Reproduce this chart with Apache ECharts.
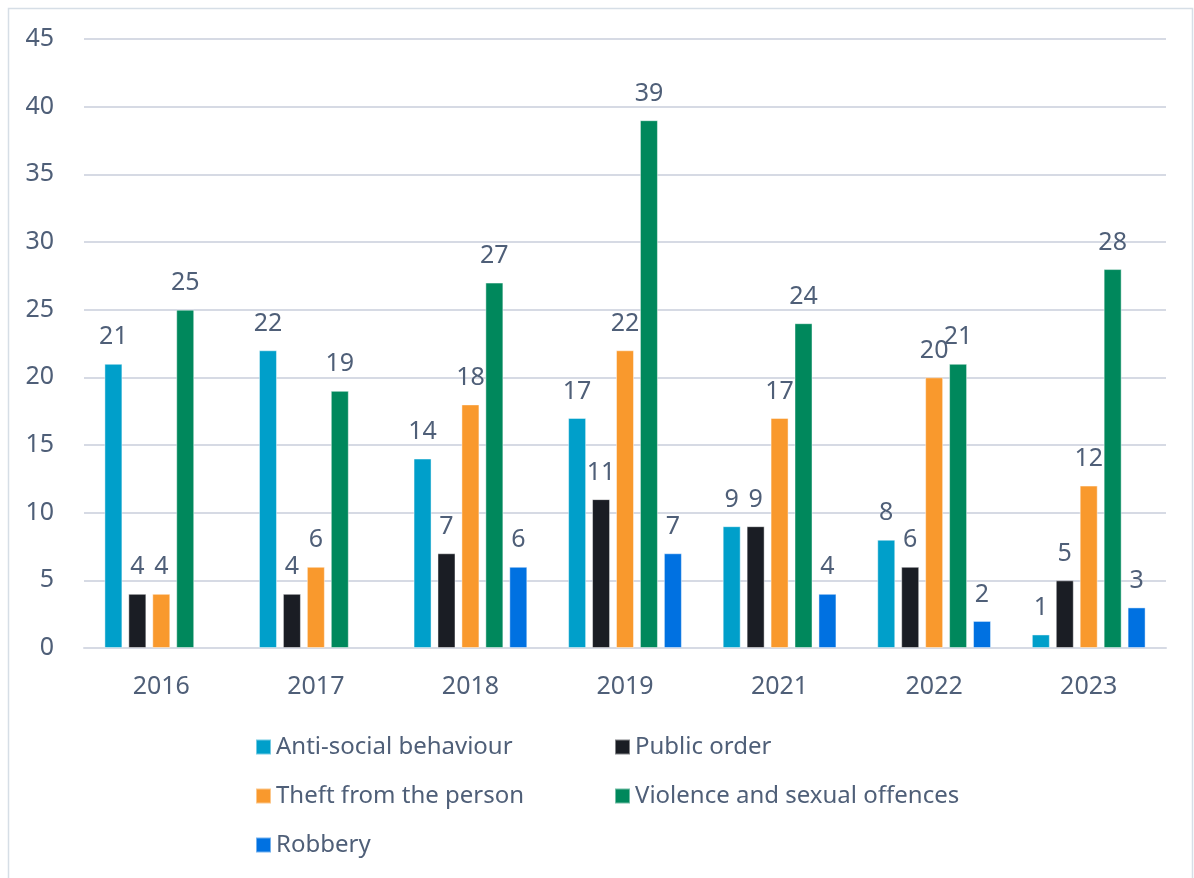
<!DOCTYPE html>
<html>
<head>
<meta charset="utf-8">
<script src="https://cdn.jsdelivr.net/npm/echarts@6/dist/echarts.min.js"></script>
<style>
  html, body { margin: 0; padding: 0; background: #fff; }
  #chart { width: 1194px; height: 878px; }
</style>
</head>
<body>
<div id="chart"></div>
<script>
// Recorded offences by year and crime type
const years = ['2016', '2017', '2018', '2019', '2021', '2022', '2023'];
const antiSocial = [21, 22, 14, 17, 9, 8, 1];
const publicOrder = [4, 4, 7, 11, 9, 6, 5];
const theft = [4, 6, 18, 22, 17, 20, 12];
const violence = [25, 19, 27, 39, 24, 21, 28];
const robbery = [null, null, 6, 7, 4, 2, 3];
const yTicks = { min: 0, max: 45, interval: 5 };

const textColor = '#4f5f78';
const fontFamily = '"Noto Sans", sans-serif';

const seriesDefs = [
  { name: 'Anti-social behaviour', data: antiSocial, color: '#009fca' },
  { name: 'Public order', data: publicOrder, color: '#1a1d24' },
  { name: 'Theft from the person', data: theft, color: '#f9992d' },
  { name: 'Violence and sexual offences', data: violence, color: '#00885c' },
  { name: 'Robbery', data: robbery, color: '#0071e1' }
];

const chart = echarts.init(document.getElementById('chart'), null, { renderer: 'canvas' });

const legendText = { color: textColor, fontSize: 24, fontFamily: fontFamily };

chart.setOption({
  animation: false,
  backgroundColor: '#ffffff',
  textStyle: { fontFamily: fontFamily },
  graphic: [{
    type: 'rect',
    shape: { x: 8.5, y: 8.5, width: 1184, height: 900 },
    style: { fill: 'none', stroke: '#d6dee6', lineWidth: 1.5 },
    silent: true
  }],
  grid: { left: 84, right: 28, top: 39, bottom: 230 },
  legend: [
    {
      orient: 'vertical', left: 250, top: 730, itemGap: 25,
      itemWidth: 15, itemHeight: 15, icon: 'rect',
      textStyle: legendText,
      data: ['Anti-social behaviour', 'Theft from the person', 'Robbery']
    },
    {
      orient: 'vertical', left: 609, top: 730, itemGap: 25,
      itemWidth: 15, itemHeight: 15, icon: 'rect',
      textStyle: legendText,
      data: ['Public order', 'Violence and sexual offences']
    }
  ],
  xAxis: {
    type: 'category',
    data: years,
    axisLine: { show: true, lineStyle: { color: '#d6dae4', width: 2 } },
    axisTick: { show: false },
    axisLabel: { color: textColor, fontSize: 25, margin: 26, fontFamily: fontFamily }
  },
  yAxis: {
    type: 'value',
    min: yTicks.min, max: yTicks.max, interval: yTicks.interval,
    axisLine: { show: false },
    axisTick: { show: false },
    splitLine: { lineStyle: { color: '#d6dae4', width: 2 } },
    axisLabel: { color: textColor, fontSize: 25, margin: 30, fontFamily: fontFamily }
  },
  series: seriesDefs.map(s => ({
    name: s.name,
    type: 'bar',
    data: s.data,
    barWidth: 18,
    barGap: '33%',
    itemStyle: { color: s.color, borderColor: 'rgba(255,255,255,0.45)', borderWidth: 1 },
    label: {
      show: true,
      position: 'top',
      distance: 14,
      color: textColor,
      fontSize: 25,
      fontFamily: fontFamily
    }
  }))
});
</script>
</body>
</html>
